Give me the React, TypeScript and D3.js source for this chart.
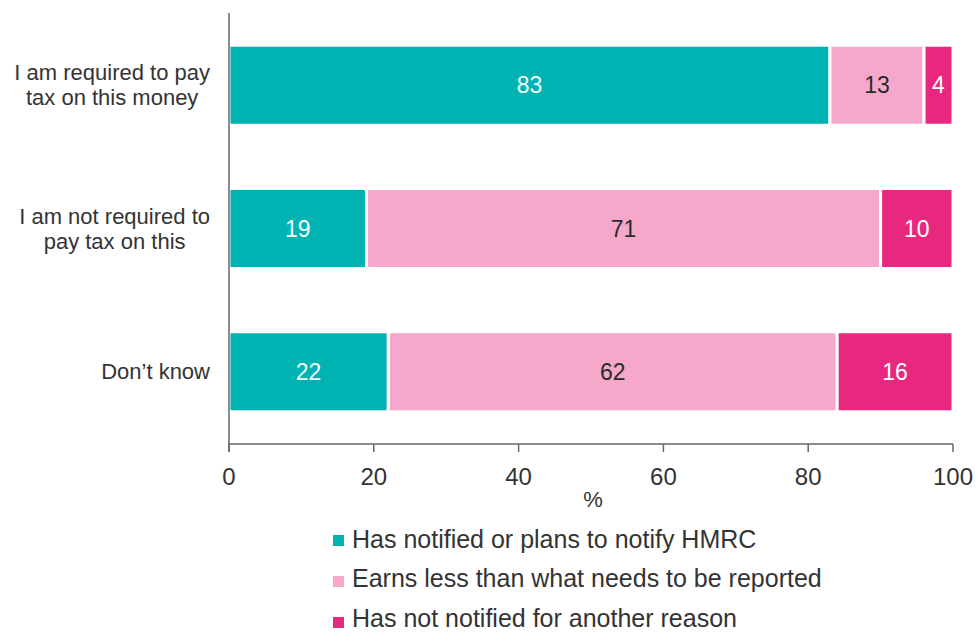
import React from "react";
import * as d3 from "d3";

const categories = ["I am required to pay\ntax on this money", "I am not required to\npay tax on this", "Don\u2019t know"];
const seriesNames = ["Has notified or plans to notify HMRC", "Earns less than what needs to be reported", "Has not notified for another reason"];
const notified = [83, 19, 22];
const earnsLess = [13, 71, 62];
const otherReason = [4, 10, 16];
const xTicks = [0, 20, 40, 60, 80, 100];
const colors = ["#00b3b3", "#f5a8ca", "#e8287f"];
const labelColors = ["#f4ffff", "#2a2a2a", "#ffffff"];

const FONT = "'Liberation Sans', Arial, sans-serif";

function measure(text: string, size: number): number {
  if (typeof document === "undefined") return text.length * size * 0.5;
  const c = document.createElement("canvas").getContext("2d");
  if (!c) return text.length * size * 0.5;
  c.font = `${size}px ${FONT}`;
  return c.measureText(text).width;
}

export default function App() {
  const W = 978, H = 635;
  const x = d3.scaleLinear().domain([0, 100]).range([229, 953]);
  const y = d3.scaleBand<string>().domain(categories).range([13, 444]).paddingInner(0.4415).paddingOuter(0.225);
  const series = [notified, earnsLess, otherReason];
  const rows = categories.map((c, i) => ({ c, vals: series.map((s) => s[i]) }));
  const catSize = 22;
  const labelRight = 210;

  return (
    <svg width={W} height={H} style={{ position: "absolute", left: 0, top: 0, background: "#fff" }} fontFamily={FONT}>
      {rows.map((r) => {
        let acc = 0;
        const y0 = y(r.c)!;
        const bw = y.bandwidth();
        return (
          <g key={r.c}>
            {r.vals.map((v, j) => {
              const x0 = x(acc);
              const x1 = x(acc + v);
              acc += v;
              return (
                <g key={j}>
                  <rect x={x0} y={y0} width={x1 - x0} height={bw} fill={colors[j]} stroke="#fff" strokeWidth={3} />
                  <text x={(x0 + x1) / 2} y={y0 + bw / 2} dy="0.35em" textAnchor="middle" fontSize={23} fill={labelColors[j]}>
                    {v}
                  </text>
                </g>
              );
            })}
          </g>
        );
      })}
      {categories.map((c) => {
        const lines = c.split("\n");
        const maxW = Math.max(...lines.map((l) => measure(l, catSize)));
        const cx = labelRight - maxW / 2;
        const cy = y(c)! + y.bandwidth() / 2;
        const lh = 25;
        return (
          <text key={c} textAnchor="middle" fontSize={catSize} fill="#333">
            {lines.map((l, k) => (
              <tspan key={k} x={cx} y={cy + (k - (lines.length - 1) / 2) * lh} dy="0.35em">
                {l}
              </tspan>
            ))}
          </text>
        );
      })}
      <line x1={x(0)} x2={x(0)} y1={13} y2={452} stroke="#666" strokeWidth={1.5} />
      <line x1={x(0)} x2={x(100)} y1={444} y2={444} stroke="#666" strokeWidth={1.5} />
      {xTicks.map((t) => (
        <g key={t}>
          <line x1={x(t)} x2={x(t)} y1={444} y2={452} stroke="#666" strokeWidth={1.5} />
          <text x={x(t)} y={477} dy="0.35em" textAnchor="middle" fontSize={24} fill="#333">
            {t}
          </text>
        </g>
      ))}
      <text x={593} y={499} dy="0.35em" textAnchor="middle" fontSize={22} fill="#333">%</text>
      {seriesNames.map((s, i) => (
        <g key={s}>
          <rect x={333} y={535 + i * 41} width={11} height={11} fill={colors[i]} />
          <text x={352} y={539 + i * 39.5} dy="0.35em" fontSize={25} fill="#333">
            {s}
          </text>
        </g>
      ))}
    </svg>
  );
}
